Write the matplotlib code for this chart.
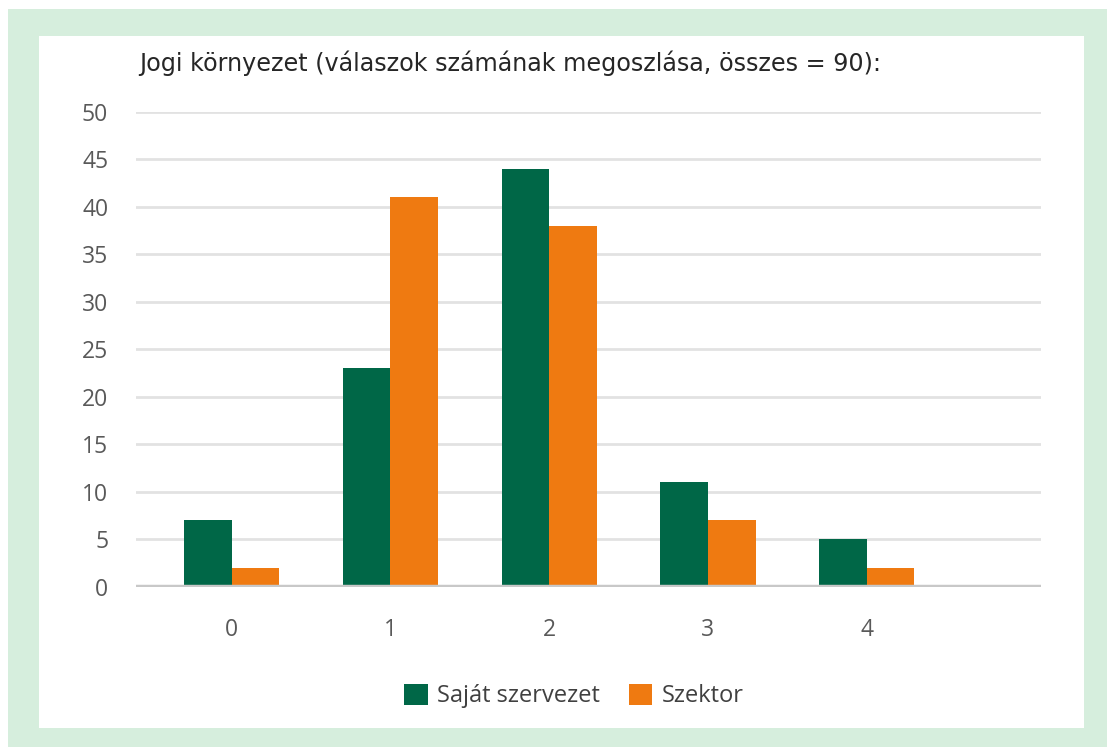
import numpy as np
import matplotlib
matplotlib.use("Agg")
from matplotlib import pyplot as plt
from matplotlib.patches import Rectangle

plt.rcParams['font.family'] = ['Open Sans', 'DejaVu Sans']

categories = ['0', '1', '2', '3', '4']
sajat = [7, 23, 44, 11, 5]
szektor = [2, 41, 38, 7, 2]
title = "Jogi környezet (válaszok számának megoszlása, összes = 90):"

W, H = 1107, 747
fig = plt.figure(figsize=(W / 100, H / 100), dpi=100)

# keret
fig.patches.append(Rectangle((8 / W, 0), 1 - 8 / W, 1 - 9 / H, transform=fig.transFigure,
                             facecolor='#d6eedd', edgecolor='none', zorder=-2))
fig.patches.append(Rectangle((39 / W, (H - 728) / H), (1084 - 39) / W, (728 - 36) / H,
                             transform=fig.transFigure, facecolor='white', edgecolor='none', zorder=-1))

ax = fig.add_axes([136 / W, (H - 587) / H, (1041 - 136) / W, (587 - 111.7) / H])
ax.set_facecolor('none')
ax.set_zorder(2)

x = np.arange(len(categories))
w = 0.3
ax.bar(x - w / 2, sajat, w, color='#006747', label='Saját szervezet', zorder=3)
ax.bar(x + w / 2, szektor, w, color='#ef7a11', label='Szektor', zorder=3)

ax.set_xlim(-0.603, 5.098)
ax.set_ylim(0, 50)
ax.set_yticks(range(0, 51, 5))
ax.set_xticks(x)
ax.set_xticklabels(categories)
ax.yaxis.grid(True, color='#e2e2e2', linewidth=2, zorder=0)
ax.set_axisbelow(True)
ax.axhline(0, color='#c8c8c8', linewidth=3.2, zorder=4)
for s in ax.spines.values():
    s.set_visible(False)
ax.tick_params(length=0, labelsize=16.5, labelcolor='#595959')
ax.tick_params(axis='y', pad=20)
ax.tick_params(axis='x', pad=22)

fig.text(139 / W, 1 - 63 / H, title, fontsize=17.2, color='#262626', va='center', ha='left',
         family='DejaVu Sans')

leg = fig.legend(loc='center', bbox_to_anchor=(574 / W, 1 - 696 / H), ncol=2, frameon=False,
                 fontsize=17, handlelength=1.0, handleheight=1.0, handletextpad=0.4,
                 columnspacing=1.2)
for t in leg.get_texts():
    t.set_color('#404040')

fig.savefig('out.png', dpi=100)
